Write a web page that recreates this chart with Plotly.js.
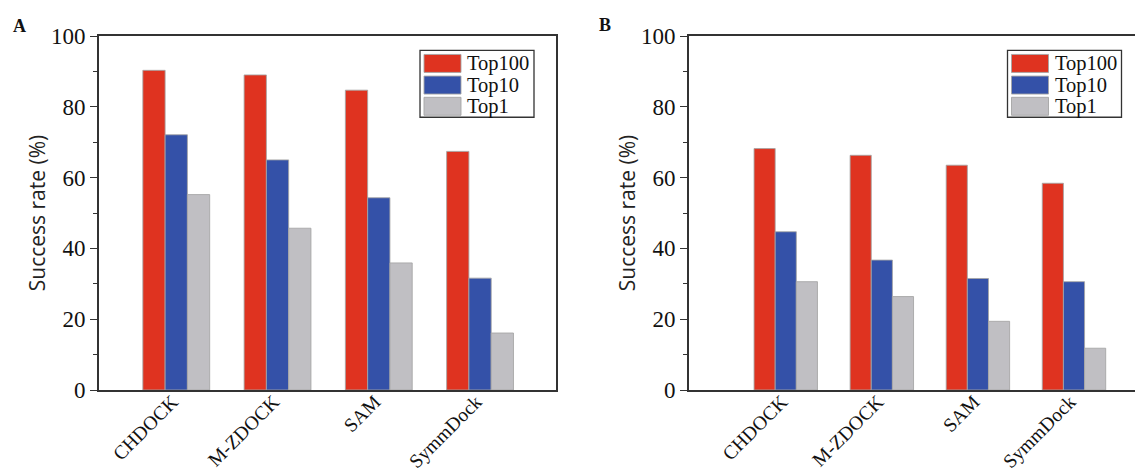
<!DOCTYPE html>
<html>
<head>
<meta charset="utf-8">
<script src="https://cdn.plot.ly/plotly-3.0.1.min.js"></script>
<style>html,body{margin:0;padding:0;background:#fff;}</style>
</head>
<body>
<div id="chart" style="width:1135px;height:475px;"></div>
<script>
// ---- data ----
const categories = ['CHDOCK', 'M-ZDOCK', 'SAM', 'SymmDock'];
const seriesNames = ['Top100', 'Top10', 'Top1'];
const panelA_top100 = [90.3, 89.0, 84.7, 67.4];
const panelA_top10  = [72.1, 65.0, 54.3, 31.6];
const panelA_top1   = [55.2, 45.7, 35.9, 16.1];
const panelB_top100 = [68.2, 66.3, 63.5, 58.4];
const panelB_top10  = [44.7, 36.7, 31.5, 30.6];
const panelB_top1   = [30.6, 26.4, 19.4, 11.8];
const panelLabels = ['A', 'B'];
const yTitle = 'Success rate (%)';

// ---- style ----
const colors = ['#DF3320', '#3451A8', '#C0BFC3'];
const W = 1135, H = 475;
const M = {l: 99, r: 0, t: 35.5, b: 84.5};
const PW = W - M.l - M.r, PH = H - M.t - M.b;
const px = x => (x - M.l) / PW;
const py = y => (H - M.b - y) / PH;
const serif = 'Liberation Serif, Times New Roman, serif';
const lineCol = '#333';

const panelA = [panelA_top100, panelA_top10, panelA_top1];
const panelB = [panelB_top100, panelB_top10, panelB_top1];

const traces = [];
[[panelA, 'x', 'y'], [panelB, 'x2', 'y2']].forEach(([vals, xa, ya]) => {
  vals.forEach((v, i) => {
    traces.push({
      type: 'bar', x: categories, y: v, name: seriesNames[i],
      xaxis: xa, yaxis: ya, showlegend: false, hoverinfo: 'x+y+name',
      marker: {color: colors[i], line: {color: 'rgba(165,165,165,0.85)', width: 1}}
    });
  });
});

function xAxis(domain, range, anchor) {
  return {
    domain: domain, range: range, anchor: anchor, type: 'category',
    showline: true, mirror: true, linecolor: lineCol, linewidth: 1.6,
    ticks: '', showgrid: false, zeroline: false, tickangle: -45,
    ticklabelshift: -4, ticklabelstandoff: -9,
    tickfont: {family: serif, size: 19.5, color: '#111'}
  };
}
function yAxis(anchor, mirror) {
  return {
    domain: [0, 1], range: [0, 100], anchor: anchor, dtick: 20,
    showline: true, mirror: mirror, linecolor: lineCol, linewidth: 1.6,
    ticks: 'outside', ticklen: 7, tickwidth: 1, tickcolor: lineCol,
    minor: {dtick: 10, ticks: 'outside', ticklen: 4, tickwidth: 1, tickcolor: lineCol},
    showgrid: false, zeroline: false,
    tickfont: {family: serif, size: 23, color: '#111'},
    title: {text: yTitle, font: {family: 'Open Sans, sans-serif', size: 21, color: '#222'}, standoff: 0}
  };
}

const shapes = [];
const annotations = [];

// custom legends (larger swatches like the original)
[420, 1007.5].forEach(left => {
  shapes.push({type: 'rect', xref: 'paper', yref: 'paper',
    x0: px(left), x1: px(left + 114), y0: py(117), y1: py(50),
    line: {color: lineCol, width: 1.3}, fillcolor: 'white', layer: 'above'});
  const rowTop = [54, 75.7, 97];
  seriesNames.forEach((name, i) => {
    shapes.push({type: 'rect', xref: 'paper', yref: 'paper',
      x0: px(left + 4), x1: px(left + 41), y0: py(rowTop[i] + 18), y1: py(rowTop[i]),
      line: {color: 'rgba(165,165,165,0.9)', width: 1}, fillcolor: colors[i], layer: 'above'});
    annotations.push({xref: 'paper', yref: 'paper', x: px(left + 45), y: py(rowTop[i] + 9.5),
      xanchor: 'left', yanchor: 'middle', showarrow: false, text: name,
      font: {family: serif, size: 20.5, color: '#111'}});
  });
});

// panel letters
[[19.5, 25.5], [604.5, 24]].forEach((p, i) => {
  annotations.push({xref: 'paper', yref: 'paper', x: px(p[0]), y: py(p[1]),
    xanchor: 'center', yanchor: 'middle', showarrow: false,
    text: '<b>' + panelLabels[i] + '</b>', font: {family: serif, size: 18, color: '#111'}});
});

const layout = {
  width: W, height: H, margin: M,
  paper_bgcolor: 'white', plot_bgcolor: 'white',
  barmode: 'group', bargap: 0.34, bargroupgap: 0, showlegend: false,
  xaxis: xAxis([0, px(556)], [-0.763, 3.75], 'y'),
  yaxis: yAxis('x', true),
  xaxis2: xAxis([px(689), 1], [-1.007, 3.635], 'y2'),
  yaxis2: yAxis('x2', false),
  shapes: shapes, annotations: annotations
};

Plotly.newPlot('chart', traces, layout, {displayModeBar: false, responsive: false});
</script>
</body>
</html>
